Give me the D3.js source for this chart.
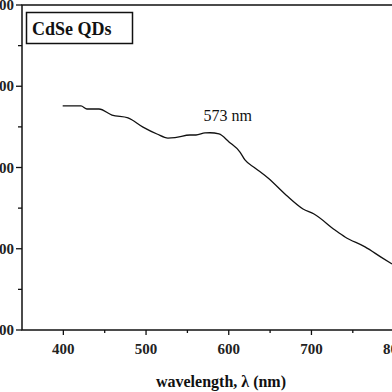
<!DOCTYPE html>
<html><head><meta charset="utf-8">
<script src="https://cdn.jsdelivr.net/npm/d3@7"></script>
<style>body{margin:0;background:#fff}svg{display:block}</style>
</head><body>
<script>
const wavelength = [399.2,421.3,428.6,443.1,458.8,478.2,496.3,513.2,526.5,535.0,553.1,560.4,571.3,577.3,588.2,600.3,613.6,619.6,631.7,647.5,669.2,689.8,703.1,728.5,740.6,764.8,784.1,797.4];
const absorbance = [1.103,1.103,1.088,1.088,1.058,1.044,0.999,0.965,0.945,0.947,0.960,0.960,0.970,0.971,0.965,0.926,0.876,0.837,0.798,0.748,0.665,0.596,0.571,0.492,0.458,0.409,0.359,0.325];
const xTicks = [400,500,600,700,800];
const xMinor = [450,550,650,750];
const yTicks = [0,0.4,0.8,1.2,1.6];
const yTickLabels = ["0.000","0.400","0.800","1.200","1.600"];
const yMinor = [0.2,0.6,1.0,1.4];
const legendText = "CdSe QDs";
const peakText = "573 nm";
const peakWavelength = 573;
const xTitle = "wavelength, \u03bb (nm)";

const W=392,H=392;
const svg=d3.select("body").append("svg").attr("width",W).attr("height",H);
const x=d3.scaleLinear().domain([350,850]).range([22,435.5]);
const y=d3.scaleLinear().domain([0,1.6]).range([330,5]);
const font="'Liberation Serif','Times New Roman',serif";

// frame
svg.append("rect").attr("x",x(350)).attr("y",y(1.6)).attr("width",x(850)-x(350)).attr("height",y(0)-y(1.6))
  .attr("fill","none").attr("stroke","#111").attr("stroke-width",1.5);

// x axis ticks
const gx=svg.append("g");
xTicks.forEach((t,i)=>{
  gx.append("line").attr("x1",x(t)).attr("x2",x(t)).attr("y1",y(0)).attr("y2",y(0)+5).attr("stroke","#111").attr("stroke-width",1.3);
  gx.append("text").attr("x",x(t)).attr("y",y(0)+24).attr("text-anchor","middle")
    .attr("font-family",font).attr("font-weight","bold").attr("font-size",15).attr("fill","#222").text(t);
});
xMinor.forEach(t=>{
  gx.append("line").attr("x1",x(t)).attr("x2",x(t)).attr("y1",y(0)).attr("y2",y(0)+3).attr("stroke","#111").attr("stroke-width",1.3);
});
// y axis ticks
const gy=svg.append("g");
yTicks.forEach((t,i)=>{
  gy.append("line").attr("x1",x(350)-6).attr("x2",x(350)).attr("y1",y(t)).attr("y2",y(t)).attr("stroke","#111").attr("stroke-width",1.3);
  gy.append("text").attr("x",x(350)-8).attr("y",y(t)+5).attr("text-anchor","end")
    .attr("font-family",font).attr("font-weight","bold").attr("font-size",15).attr("fill","#222").text(yTickLabels[i]);
});
yMinor.forEach(t=>{
  gy.append("line").attr("x1",x(350)-4).attr("x2",x(350)).attr("y1",y(t)).attr("y2",y(t)).attr("stroke","#111").attr("stroke-width",1.3);
});

// curve
const data=wavelength.map((w,i)=>[w,absorbance[i]]);
svg.append("path").datum(data).attr("fill","none").attr("stroke","#111").attr("stroke-width",1.3)
  .attr("d",d3.line().x(d=>x(d[0])).y(d=>y(d[1])).curve(d3.curveMonotoneX));

// peak label
svg.append("text").attr("x",x(peakWavelength)-3).attr("y",y(1.03)).attr("text-anchor","start")
  .attr("font-family",font).attr("font-size",16).attr("fill","#111").text(peakText);

// legend box
svg.append("rect").attr("x",26.5).attr("y",12.5).attr("width",106).attr("height",31)
  .attr("fill","#fff").attr("stroke","#111").attr("stroke-width",1.5);
svg.append("text").attr("x",32).attr("y",35).attr("font-family",font).attr("font-weight","bold")
  .attr("font-size",18).attr("fill","#111").text(legendText);

// x title
svg.append("text").attr("x",221).attr("y",387).attr("text-anchor","middle")
  .attr("font-family",font).attr("font-weight","bold").attr("font-size",16).attr("fill","#111").text(xTitle);
</script>
</body></html>
